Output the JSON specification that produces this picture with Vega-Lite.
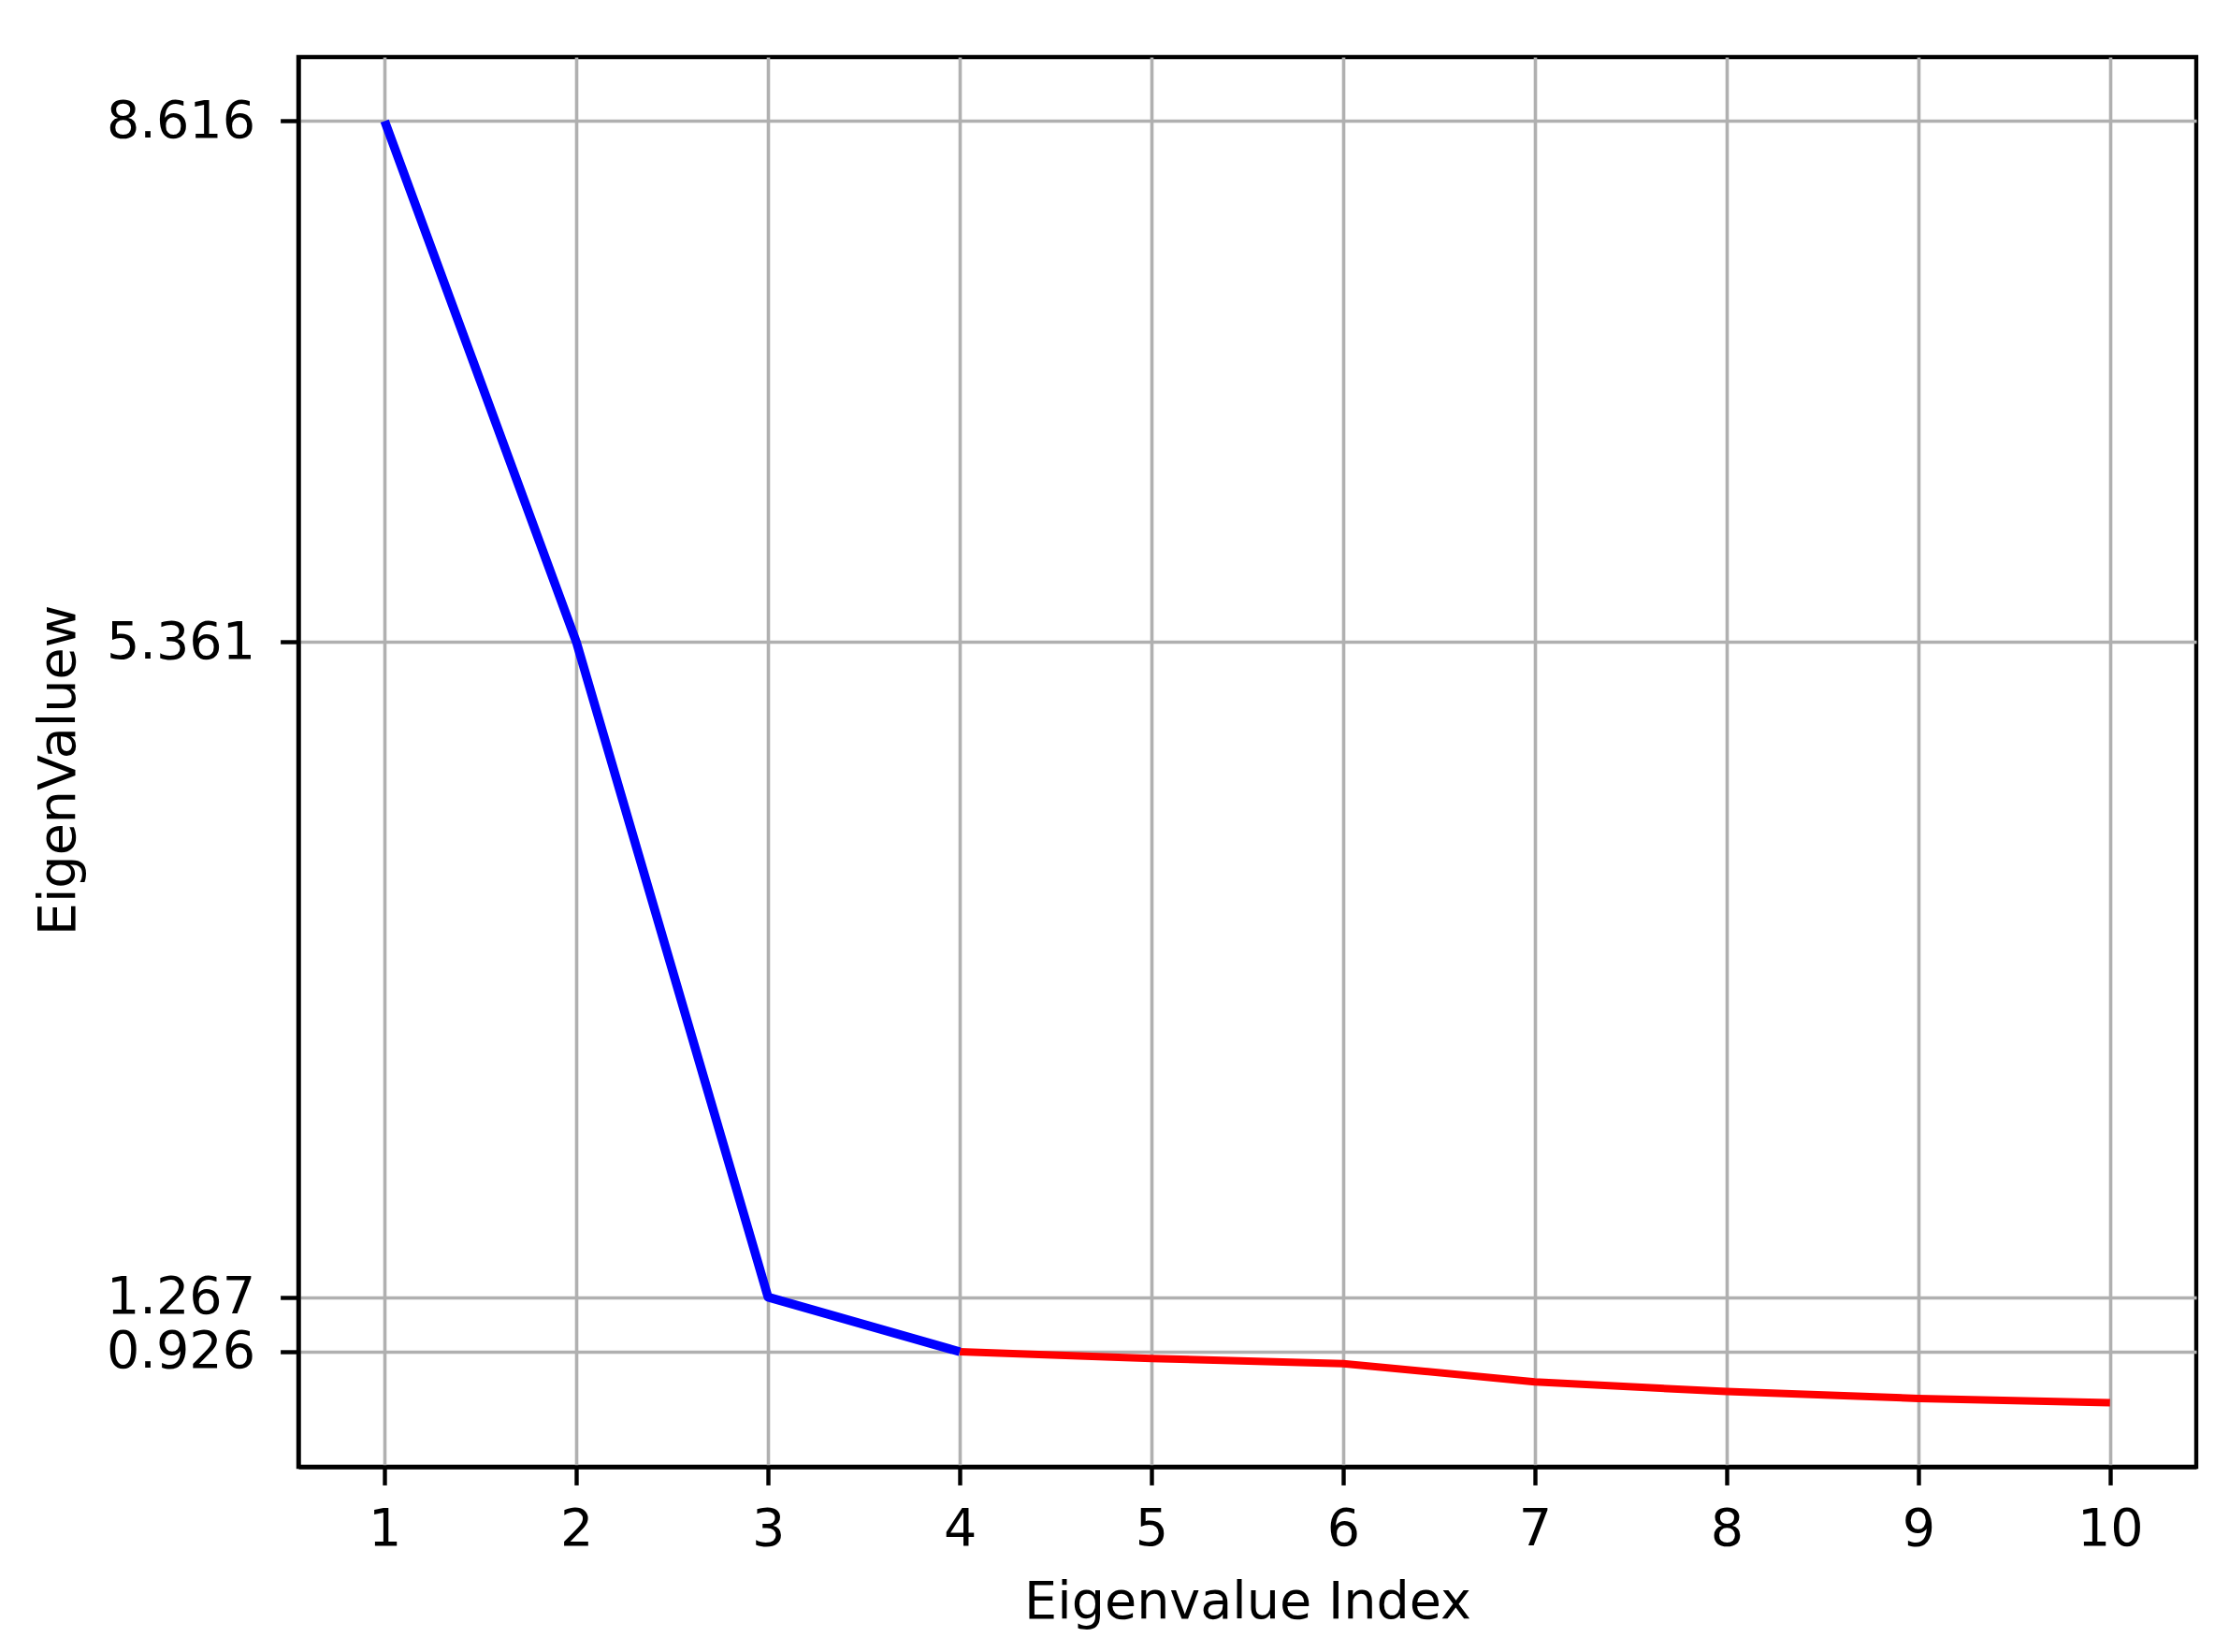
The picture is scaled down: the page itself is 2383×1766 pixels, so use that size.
{
  "$schema": "https://vega.github.io/schema/vega-lite/v6.json",
  "width": 2029,
  "height": 1507,
  "autosize": "none",
  "padding": {"left": 319, "top": 61, "right": 35, "bottom": 198},
  "background": "white",
  "config": {
    "font": "DejaVu Sans",
    "view": {"stroke": "black", "strokeWidth": 4.4},
    "axis": {
      "labelFont": "DejaVu Sans",
      "titleFont": "DejaVu Sans",
      "labelFontSize": 55.6,
      "titleFontSize": 55.6,
      "labelColor": "black",
      "titleColor": "black",
      "titleFontWeight": "normal",
      "domainColor": "black",
      "domainWidth": 4.4,
      "tickColor": "black",
      "tickWidth": 4.4,
      "tickSize": 19.4,
      "gridColor": "#b0b0b0",
      "gridWidth": 3.6,
      "gridOpacity": 1
    }
  },
  "data": {
    "values": [
      {"index": 1, "value": 8.616, "part": "retained"},
      {"index": 2, "value": 5.361, "part": "retained"},
      {"index": 3, "value": 1.267, "part": "retained"},
      {"index": 4, "value": 0.926, "part": "retained"},
      {"index": 4, "value": 0.926, "part": "discarded"},
      {"index": 5, "value": 0.884, "part": "discarded"},
      {"index": 6, "value": 0.852, "part": "discarded"},
      {"index": 7, "value": 0.738, "part": "discarded"},
      {"index": 8, "value": 0.677, "part": "discarded"},
      {"index": 9, "value": 0.634, "part": "discarded"},
      {"index": 10, "value": 0.607, "part": "discarded"}
    ]
  },
  "encoding": {
    "x": {
      "field": "index",
      "type": "quantitative",
      "scale": {"domain": [0.55, 10.45], "nice": false, "zero": false},
      "axis": {
        "title": "Eigenvalue Index",
        "values": [1, 2, 3, 4, 5, 6, 7, 8, 9, 10],
        "format": "d",
        "labelPadding": 20,
        "titlePadding": 22,
        "labelFlush": false,
        "labelOverlap": false
      }
    },
    "y": {
      "field": "value",
      "type": "quantitative",
      "scale": {"domain": [0.207, 9.016], "nice": false, "zero": false},
      "axis": {
        "title": "EigenValuew",
        "values": [0.926, 1.267, 5.361, 8.616],
        "format": ".3f",
        "labelPadding": 27,
        "titlePadding": 28,
        "titleY": 762,
        "labelFlush": false,
        "labelOverlap": false
      }
    },
    "color": {
      "field": "part",
      "type": "nominal",
      "scale": {"domain": ["retained", "discarded"], "range": ["#0000ff", "#ff0000"]},
      "legend": null
    },
    "order": {"field": "index", "type": "quantitative"}
  },
  "layer": [
    {
      "transform": [{"filter": "datum.part === 'discarded'"}],
      "mark": {"type": "line", "strokeWidth": 8, "strokeCap": "butt", "strokeJoin": "round"}
    },
    {
      "transform": [{"filter": "datum.part === 'retained'"}],
      "mark": {"type": "line", "strokeWidth": 9.5, "strokeCap": "butt", "strokeJoin": "round"}
    }
  ]
}
